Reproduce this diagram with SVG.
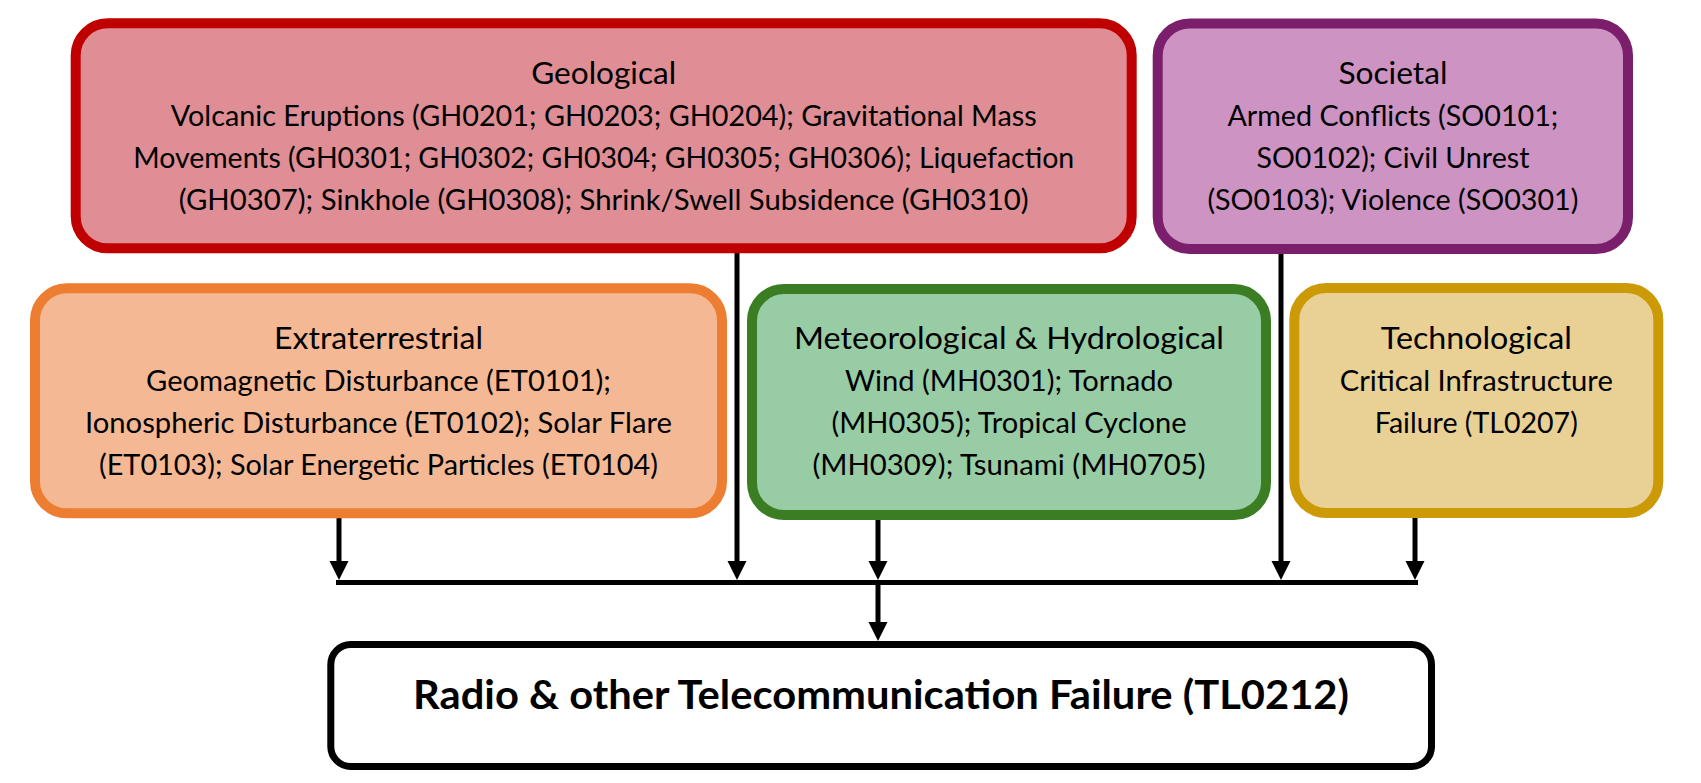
<svg xmlns="http://www.w3.org/2000/svg" width="1701" height="783" viewBox="0 0 1701 783">
<style>
  .box { stroke-width: 10; }
  .t { font-family: Lato, "Open Sans", sans-serif; font-size: 30px; fill: #000; text-anchor: middle; }
  .b { font-family: Lato, "Open Sans", sans-serif; font-size: 28px; fill: #000; text-anchor: middle; }
  .main { font-family: Lato, "Open Sans", sans-serif; font-size: 41px; font-weight: bold; fill: #000; text-anchor: middle; }
  .conn { stroke: #000; stroke-width: 5; fill: none; }
</style>
<defs>
  <marker id="arrow" markerUnits="userSpaceOnUse" markerWidth="20" markerHeight="20" viewBox="0 0 20 20" refX="9" refY="9.5" orient="auto">
    <path d="M0,0 L19,9.5 L0,19 z" fill="#000"/>
  </marker>
</defs>
<rect width="1701" height="783" fill="#fff"/>

<g id="connectors" class="conn">
  <line x1="339" y1="518" x2="339" y2="570" marker-end="url(#arrow)"/>
  <line x1="737" y1="253" x2="737" y2="570" marker-end="url(#arrow)"/>
  <line x1="878" y1="520" x2="878" y2="570" marker-end="url(#arrow)"/>
  <line x1="1281" y1="254" x2="1281" y2="570" marker-end="url(#arrow)"/>
  <line x1="1415" y1="518" x2="1415" y2="570" marker-end="url(#arrow)"/>
  <line x1="336" y1="582.5" x2="1418" y2="582.5"/>
  <line x1="878" y1="582" x2="878" y2="631" marker-end="url(#arrow)"/>
</g>

<g id="geological">
  <rect class="box" x="75.7" y="23.3" width="1056" height="225" rx="32" fill="#DE8E94" stroke="#C00000"/>
  <text class="t" x="603.7" y="84" textLength="145" lengthAdjust="spacingAndGlyphs">Geological</text>
  <text class="b" x="603.7" y="126" textLength="866" lengthAdjust="spacingAndGlyphs">Volcanic Eruptions (GH0201; GH0203; GH0204); Gravitational Mass</text>
  <text class="b" x="603.7" y="168" textLength="941" lengthAdjust="spacingAndGlyphs">Movements (GH0301; GH0302; GH0304; GH0305; GH0306); Liquefaction</text>
  <text class="b" x="603.7" y="210" textLength="850" lengthAdjust="spacingAndGlyphs">(GH0307); Sinkhole (GH0308); Shrink/Swell Subsidence (GH0310)</text>
</g>

<g id="societal">
  <rect class="box" x="1157.7" y="23.5" width="470.3" height="225.5" rx="32" fill="#CD93C3" stroke="#7B1E6B"/>
  <text class="t" x="1392.9" y="84" textLength="109" lengthAdjust="spacingAndGlyphs">Societal</text>
  <text class="b" x="1392.9" y="126" textLength="331" lengthAdjust="spacingAndGlyphs">Armed Conflicts (SO0101;</text>
  <text class="b" x="1392.9" y="168" textLength="273" lengthAdjust="spacingAndGlyphs">SO0102); Civil Unrest</text>
  <text class="b" x="1392.9" y="210" textLength="371" lengthAdjust="spacingAndGlyphs">(SO0103); Violence (SO0301)</text>
</g>

<g id="extraterrestrial">
  <rect class="box" x="35" y="288.3" width="687" height="225" rx="32" fill="#F4B994" stroke="#ED7D31"/>
  <text class="t" x="378.5" y="349" textLength="209" lengthAdjust="spacingAndGlyphs">Extraterrestrial</text>
  <text class="b" x="378.5" y="391" textLength="465" lengthAdjust="spacingAndGlyphs">Geomagnetic Disturbance (ET0101);</text>
  <text class="b" x="378.5" y="433" textLength="587" lengthAdjust="spacingAndGlyphs">Ionospheric Disturbance (ET0102); Solar Flare</text>
  <text class="b" x="378.5" y="475" textLength="559" lengthAdjust="spacingAndGlyphs">(ET0103); Solar Energetic Particles (ET0104)</text>
</g>

<g id="meteorological">
  <rect class="box" x="752" y="289" width="514" height="226" rx="32" fill="#98CCA4" stroke="#3B7D23"/>
  <text class="t" x="1009" y="349" textLength="430" lengthAdjust="spacingAndGlyphs">Meteorological &amp; Hydrological</text>
  <text class="b" x="1009" y="391" textLength="328" lengthAdjust="spacingAndGlyphs">Wind (MH0301); Tornado</text>
  <text class="b" x="1009" y="433" textLength="355" lengthAdjust="spacingAndGlyphs">(MH0305); Tropical Cyclone</text>
  <text class="b" x="1009" y="475" textLength="393" lengthAdjust="spacingAndGlyphs">(MH0309); Tsunami (MH0705)</text>
</g>

<g id="technological">
  <rect class="box" x="1294.3" y="288" width="364" height="225" rx="32" fill="#E9D095" stroke="#CC9A06"/>
  <text class="t" x="1476.3" y="349" textLength="191" lengthAdjust="spacingAndGlyphs">Technological</text>
  <text class="b" x="1476.3" y="391" textLength="273" lengthAdjust="spacingAndGlyphs">Critical Infrastructure</text>
  <text class="b" x="1476.3" y="433" textLength="203" lengthAdjust="spacingAndGlyphs">Failure (TL0207)</text>
</g>

<g id="telecom-failure">
  <rect x="330.8" y="644.5" width="1100.7" height="122" rx="20" fill="#fff" stroke="#000" stroke-width="7"/>
  <text class="main" x="881" y="709" textLength="936" lengthAdjust="spacingAndGlyphs">Radio &amp; other Telecommunication Failure (TL0212)</text>
</g>
</svg>
